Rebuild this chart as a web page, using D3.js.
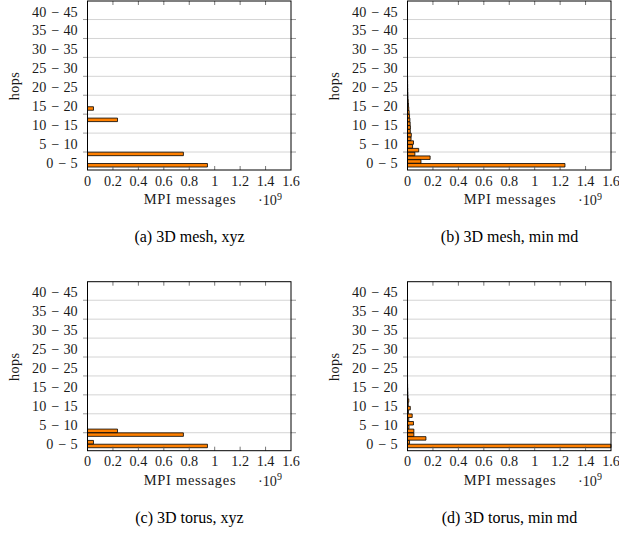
<!DOCTYPE html>
<html>
<head>
<meta charset="utf-8">
<script src="https://cdn.jsdelivr.net/npm/d3@7"></script>
<style>
  body { margin: 0; background: #fff; }
  svg text { font-family: "Liberation Serif", "Times New Roman", serif; }
</style>
</head>
<body>
<svg id="chart" width="619" height="533"></svg>
<script>
// hop bins on the vertical axis (lower / upper bound of each label)
const binLow = ["0", "5", "10", "15", "20", "25", "30", "35", "40"];
const binHigh = ["5", "10", "15", "20", "25", "30", "35", "40", "45"];
const binCenters = [2, 7, 12, 17, 22, 27, 32, 37, 42];
const binEdges = [4.5, 9.5, 14.5, 19.5, 24.5, 29.5, 34.5, 39.5];

// MPI messages axis (x 10^9)
const msgTicks = [0, 0.2, 0.4, 0.6, 0.8, 1, 1.2, 1.4, 1.6];
const msgTickLabels = ["0", "0.2", "0.4", "0.6", "0.8", "1", "1.2", "1.4", "1.6"];

// (a) 3D mesh, xyz
const meshXyzHops = [1, 4, 13, 16];
const meshXyzMsgs = [0.943, 0.754, 0.236, 0.047];

// (b) 3D mesh, min md
const meshMinMdHops = [1, 2, 3, 4, 5, 6, 7, 8, 9, 10, 11, 12, 13, 14, 15, 16, 17, 18, 19, 20, 21, 22, 23, 24, 25, 26, 27, 28];
const meshMinMdMsgs = [1.238, 0.106, 0.178, 0.058, 0.088, 0.04, 0.047, 0.028, 0.03, 0.022, 0.023, 0.021, 0.019, 0.016, 0.013, 0.01, 0.008, 0.006, 0.004, 0.003, 0.002, 0.0015, 0.001, 0.0005, 0, 0, 0, 0];

// (c) 3D torus, xyz
const torusXyzHops = [1, 2, 4, 5];
const torusXyzMsgs = [0.943, 0.047, 0.754, 0.236];

// (d) 3D torus, min md
const torusMinMdHops = [1, 2, 3, 4, 5, 6, 7, 8, 9, 10, 11, 12, 13, 14, 15, 16, 17, 18, 19];
const torusMinMdMsgs = [1.6, 0.016, 0.145, 0.05, 0.05, 0.012, 0.047, 0.01, 0.037, 0.008, 0.022, 0.006, 0.01, 0.004, 0.003, 0.002, 0.001, 0.0005, 0];

const panels = [
  { left: 87.5, top: 1, caption: "(a) 3D mesh, xyz", hops: meshXyzHops, msgs: meshXyzMsgs },
  { left: 407.5, top: 1, caption: "(b) 3D mesh, min md", hops: meshMinMdHops, msgs: meshMinMdMsgs },
  { left: 87.5, top: 281.7, caption: "(c) 3D torus, xyz", hops: torusXyzHops, msgs: torusXyzMsgs },
  { left: 407.5, top: 281.7, caption: "(d) 3D torus, min md", hops: torusMinMdHops, msgs: torusMinMdMsgs }
];

const W = 203.5, H = 169;
const barH = 3.5;
const fs = 14.2;

const svg = d3.select("#chart");
svg.append("rect").attr("width", 619).attr("height", 533).attr("fill", "#fff");

panels.forEach(p => drawPanel(p));

function drawPanel(p) {
  const g = svg.append("g").attr("transform", `translate(${p.left},${p.top})`);

  const x = d3.scaleLinear().domain([0, 1.6]).range([0, W]);
  const y = d3.scaleLinear().domain([-0.25, 44.4]).range([H, 0]);

  // grid lines + outside ticks
  g.append("g").selectAll("line")
    .data(binEdges)
    .enter().append("line")
    .attr("x1", 0).attr("x2", W)
    .attr("y1", d => y(d)).attr("y2", d => y(d))
    .attr("stroke", "#d4d4d4").attr("stroke-width", 1);
  g.append("g").selectAll("path")
    .data(binEdges)
    .enter().append("path")
    .attr("d", d => `M-4.5,${y(d)}H0M${W},${y(d)}H${W + 5}`)
    .attr("stroke", "#9a9a9a").attr("stroke-width", 1);

  // bars (paths so that zero-length bars still show their outline)
  const data = p.hops.map((h, i) => ({ hop: h, value: p.msgs[i] }));
  g.append("g").selectAll("path")
    .data(data)
    .enter().append("path")
    .attr("d", d => {
      const x0 = x(0), x1 = x(d.value), yc = y(d.hop);
      return `M${x0},${yc - barH / 2}H${x1}V${yc + barH / 2}H${x0}Z`;
    })
    .attr("fill", "#ff8000")
    .attr("stroke", "#000")
    .attr("stroke-width", 0.8);

  // inner x ticks top and bottom
  g.append("g").selectAll("path")
    .data(msgTicks.slice(1, -1))
    .enter().append("path")
    .attr("d", d => `M${x(d)},0V4M${x(d)},${H}V${H - 4}`)
    .attr("stroke", "#555").attr("stroke-width", 0.8);

  // frame
  g.append("rect")
    .attr("x", 0).attr("y", 0).attr("width", W).attr("height", H)
    .attr("fill", "none").attr("stroke", "#000").attr("stroke-width", 1);

  // y tick labels, "low − high" built in pieces (math-style spacing)
  const gap = 3.1, minusW = 0.778 * fs;
  binCenters.forEach((c, i) => {
    const yy = y(c) + 1.5;
    const hi = g.append("text")
      .attr("x", -9.8).attr("y", yy).attr("dy", "0.35em")
      .attr("text-anchor", "end").attr("font-size", fs).attr("fill", "#1a1a1a")
      .text(binHigh[i]);
    const wHi = hi.node().getComputedTextLength();
    const mx = -9.8 - wHi - gap - minusW / 2;
    g.append("text")
      .attr("x", mx).attr("y", yy).attr("dy", "0.35em")
      .attr("text-anchor", "middle").attr("font-size", fs).attr("fill", "#1a1a1a")
      .text("−");
    g.append("text")
      .attr("x", mx - minusW / 2 - gap).attr("y", yy).attr("dy", "0.35em")
      .attr("text-anchor", "end").attr("font-size", fs).attr("fill", "#1a1a1a")
      .text(binLow[i]);
  });

  // x tick labels
  g.append("g").selectAll("text")
    .data(msgTicks)
    .enter().append("text")
    .attr("x", d => x(d))
    .attr("y", H + 15.5)
    .attr("text-anchor", "middle")
    .attr("font-size", fs)
    .attr("fill", "#1a1a1a")
    .text((d, i) => msgTickLabels[i]);

  // axis labels
  g.append("text")
    .attr("transform", `translate(-73.5,${85}) rotate(-90)`)
    .attr("text-anchor", "middle")
    .attr("dy", "0.35em")
    .attr("font-size", fs)
    .attr("letter-spacing", 0.4)
    .attr("fill", "#1a1a1a")
    .text("hops");

  g.append("text")
    .attr("x", 102.5)
    .attr("y", H + 34)
    .attr("text-anchor", "middle")
    .attr("font-size", 14.5)
    .attr("letter-spacing", 0.7)
    .attr("fill", "#1a1a1a")
    .text("MPI messages");

  const mult = g.append("text")
    .attr("x", W - 33)
    .attr("y", H + 35)
    .attr("font-size", fs)
    .attr("fill", "#1a1a1a");
  mult.append("tspan").text("·10");
  mult.append("tspan").attr("dy", -5.5).attr("font-size", 10).text("9");

  // caption
  g.append("text")
    .attr("x", 102)
    .attr("y", H + 72)
    .attr("text-anchor", "middle")
    .attr("font-size", 16)
    .attr("fill", "#000")
    .text(p.caption);
}
</script>
</body>
</html>
